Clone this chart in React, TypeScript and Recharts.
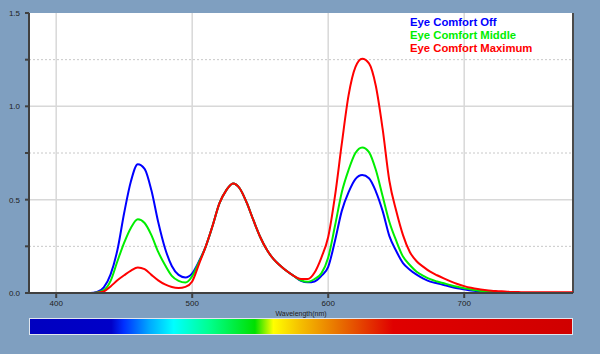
import React from 'react';
import { LineChart, Line, XAxis, YAxis, CartesianGrid, ReferenceLine, Legend, Label } from 'recharts';

const wavelengths = [380,385,390,395,400,405,410,415,420,425,430,435,440,445,450,455,460,465,470,475,480,485,490,495,500,505,510,515,520,525,530,535,540,545,550,555,560,565,570,575,580,585,590,595,600,605,610,615,620,625,630,635,640,645,650,655,660,665,670,675,680,685,690,695,700,705,710,715,720,725,730,735,740,745,750,755,760,765,770,775,780];

const offValues = [0,0,0,0,0,0,0,0,0,0,0.005,0.03,0.1,0.23,0.43,0.6,0.69,0.665,0.55,0.38,0.24,0.145,0.097,0.083,0.105,0.17,0.25,0.36,0.48,0.55,0.587,0.56,0.485,0.39,0.3,0.23,0.18,0.145,0.115,0.09,0.065,0.057,0.062,0.092,0.14,0.28,0.44,0.54,0.61,0.632,0.615,0.545,0.44,0.305,0.225,0.16,0.125,0.098,0.077,0.061,0.052,0.043,0.034,0.026,0.02,0.014,0.01,0.007,0.005,0.003,0.002,0.001,0,0,0,0,0,0,0,0,0];

const middleValues = [0,0,0,0,0,0,0,0,0,0,0.003,0.015,0.065,0.17,0.27,0.35,0.395,0.375,0.31,0.22,0.15,0.092,0.065,0.056,0.09,0.165,0.25,0.36,0.48,0.55,0.587,0.56,0.485,0.39,0.3,0.23,0.18,0.145,0.115,0.09,0.068,0.06,0.075,0.105,0.19,0.36,0.54,0.66,0.75,0.78,0.755,0.66,0.52,0.38,0.28,0.195,0.15,0.114,0.092,0.074,0.062,0.052,0.042,0.033,0.026,0.019,0.014,0.01,0.007,0.005,0.003,0.002,0.001,0,0,0,0,0,0,0,0];

const maximumValues = [0,0,0,0,0,0,0,0,0,0,0.001,0.008,0.035,0.068,0.095,0.12,0.137,0.128,0.097,0.068,0.046,0.032,0.027,0.033,0.062,0.155,0.25,0.36,0.48,0.55,0.587,0.56,0.485,0.39,0.3,0.23,0.18,0.145,0.115,0.09,0.075,0.075,0.11,0.19,0.3,0.52,0.8,1.06,1.21,1.255,1.23,1.11,0.88,0.6,0.44,0.31,0.22,0.17,0.14,0.114,0.095,0.078,0.062,0.048,0.037,0.028,0.021,0.016,0.012,0.01,0.008,0.006,0.005,0.004,0.004,0.004,0.004,0.004,0.004,0.004,0.004];

const xTicks = [400, 500, 600, 700];
const yTicks = [0, 0.25, 0.5, 0.75, 1, 1.25, 1.5];
const solidGrid = [0.5, 1.0];
const dottedGrid = [0.25, 0.75, 1.25];

const seriesNames = ['Eye Comfort Off', 'Eye Comfort Middle', 'Eye Comfort Maximum'];
const seriesKeys = ['off', 'middle', 'maximum'];
const seriesColors = ['#0000ff', '#00ee00', '#ff0000'];

const data = wavelengths.map((w, i) => ({
  wl: w,
  off: offValues[i],
  middle: middleValues[i],
  maximum: maximumValues[i],
}));

const FONT = '"Liberation Sans", Arial, sans-serif';

const LegendContent = () => (
  <div style={{ fontFamily: FONT, fontWeight: 'bold', fontSize: 11.3, lineHeight: '13px' }}>
    {seriesNames.map((n, i) => (
      <div key={n} style={{ color: seriesColors[i] }}>{n}</div>
    ))}
  </div>
);

export default function App() {
  return (
    <div style={{ position: 'absolute', left: 0, top: 0, width: 600, height: 354, background: '#7f9fc0' }}>
      <LineChart
        width={600}
        height={354}
        data={data}
        margin={{ top: 13, right: 27, left: 0, bottom: 41 }}
      >
        <CartesianGrid horizontal={false} vertical={true} stroke="#d8d8d8" strokeWidth={1.5} fill="#ffffff" />
        {dottedGrid.map((v) => (
          <ReferenceLine key={'d' + v} y={v} stroke="#c8c8c8" strokeDasharray="2 2" />
        ))}
        {solidGrid.map((v) => (
          <ReferenceLine key={'s' + v} y={v} stroke="#d8d8d8" strokeWidth={1.5} />
        ))}
        <ReferenceLine x={780} stroke="#4a4a4a" strokeWidth={2} />
        <XAxis
          dataKey="wl"
          type="number"
          domain={[380, 780]}
          ticks={xTicks}
          allowDataOverflow
          height={20}
          stroke="#404040"
          strokeWidth={2}
          tickSize={5}
          tickMargin={2}
          tick={{ fontSize: 8, fill: '#222', fontFamily: FONT }}
        >
          <Label value="Wavelength(nm)" position="insideBottom" offset={-3} dx={0} style={{ fontSize: 7, fill: '#222', fontFamily: FONT }} />
        </XAxis>
        <YAxis
          type="number"
          domain={[0, 1.5]}
          ticks={yTicks}
          width={29}
          stroke="#404040"
          strokeWidth={2}
          tickSize={4}
          tickMargin={5}
          tickFormatter={(v: number) => (Math.abs(v * 2 - Math.round(v * 2)) < 1e-6 ? v.toFixed(1) : '')}
          tick={{ fontSize: 8, fill: '#222', fontFamily: FONT }}
        />
        <Legend
          layout="horizontal"
          verticalAlign="middle"
          align="center"
          content={<LegendContent />}
          wrapperStyle={{ position: 'absolute', top: 16, left: 410, width: 160 }}
        />
        {seriesKeys.map((k, i) => (
          <Line
            key={k}
            dataKey={k}
            name={seriesNames[i]}
            type="monotone"
            stroke={seriesColors[i]}
            strokeWidth={2}
            dot={false}
            isAnimationActive={false}
          />
        ))}
      </LineChart>
      <div
        style={{
          position: 'absolute',
          left: 29,
          top: 318,
          width: 544,
          height: 17,
          boxSizing: 'border-box',
          border: '1px solid #e0e6ee',
          background:
            'linear-gradient(to right, #0000c0 0%, #0000c8 15%, #0030ff 17.3%, #00a8ff 22%, #00ffff 26.5%, #00ff90 33%, #00e000 41.5%, #ffff00 44.9%, #f5c000 49.8%, #e87000 57%, #e00000 67%, #d00000 100%)',
        }}
      />
    </div>
  );
}
